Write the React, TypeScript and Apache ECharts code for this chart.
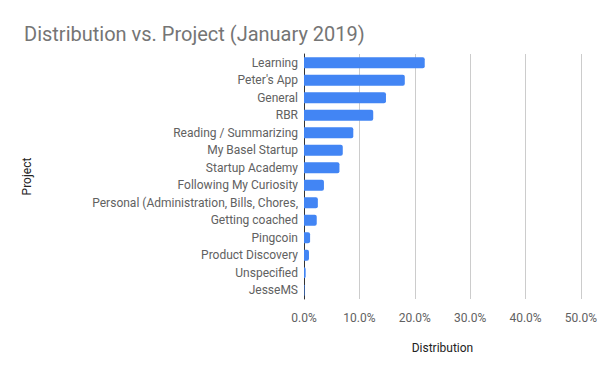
import React, { useEffect, useRef } from "react";
import * as echarts from "echarts";

const projects = [
  "Learning",
  "Peter's App",
  "General",
  "RBR",
  "Reading / Summarizing",
  "My Basel Startup",
  "Startup Academy",
  "Following My Curiosity",
  "Personal (Administration, Bills, Chores,",
  "Getting coached",
  "Pingcoin",
  "Product Discovery",
  "Unspecified",
  "JesseMS",
];
const distribution = [0.218, 0.182, 0.148, 0.125, 0.089, 0.07, 0.064, 0.036, 0.025, 0.023, 0.011, 0.009, 0.003, 0.001];
const xTicks = [0, 0.1, 0.2, 0.3, 0.4, 0.5];

export default function App() {
  const ref = useRef<HTMLDivElement>(null);
  useEffect(() => {
    const chart = echarts.init(ref.current!, null, { renderer: "svg" });
    chart.setOption({
      animation: false,
      textStyle: { fontFamily: "Roboto" },
      title: {
        text: "Distribution vs. Project (January 2019)",
        left: 19,
        top: 19,
        textStyle: { fontFamily: "Roboto", fontSize: 20, fontWeight: "normal", color: "#757575" },
      },
      grid: { left: 304, right: 16.5, top: 54, bottom: 72, containLabel: false },
      xAxis: {
        type: "value",
        min: xTicks[0],
        max: xTicks[xTicks.length - 1],
        interval: 0.1,
        name: "Distribution",
        nameLocation: "middle",
        nameGap: 43,
        nameTextStyle: { color: "#222", fontSize: 12, fontFamily: "Roboto" },
        axisLine: { show: false },
        axisTick: { show: false },
        axisLabel: {
          color: "#616161",
          fontSize: 12,
          margin: 13,
          formatter: (v: number) => (v * 100).toFixed(1) + "%",
        },
        splitLine: { lineStyle: { color: "#cccccc", width: 1 } },
      },
      yAxis: {
        type: "category",
        inverse: true,
        data: projects,
        name: "Project",
        nameLocation: "middle",
        nameGap: 271,
        nameRotate: 90,
        nameTextStyle: { color: "#222", fontSize: 12, fontFamily: "Roboto" },
        axisLine: { show: true, lineStyle: { color: "#333", width: 1 } },
        axisTick: { show: false },
        axisLabel: { color: "#616161", fontSize: 12, margin: 6 },
      },
      series: [
        {
          type: "bar",
          data: distribution,
          barWidth: 11,
          itemStyle: { color: "#4285f4", borderRadius: [0, 2, 2, 0] },
        },
      ],
    });
    return () => chart.dispose();
  }, []);
  return <div ref={ref} style={{ width: 600, height: 371, position: "absolute", left: 0, top: 0 }} />;
}
